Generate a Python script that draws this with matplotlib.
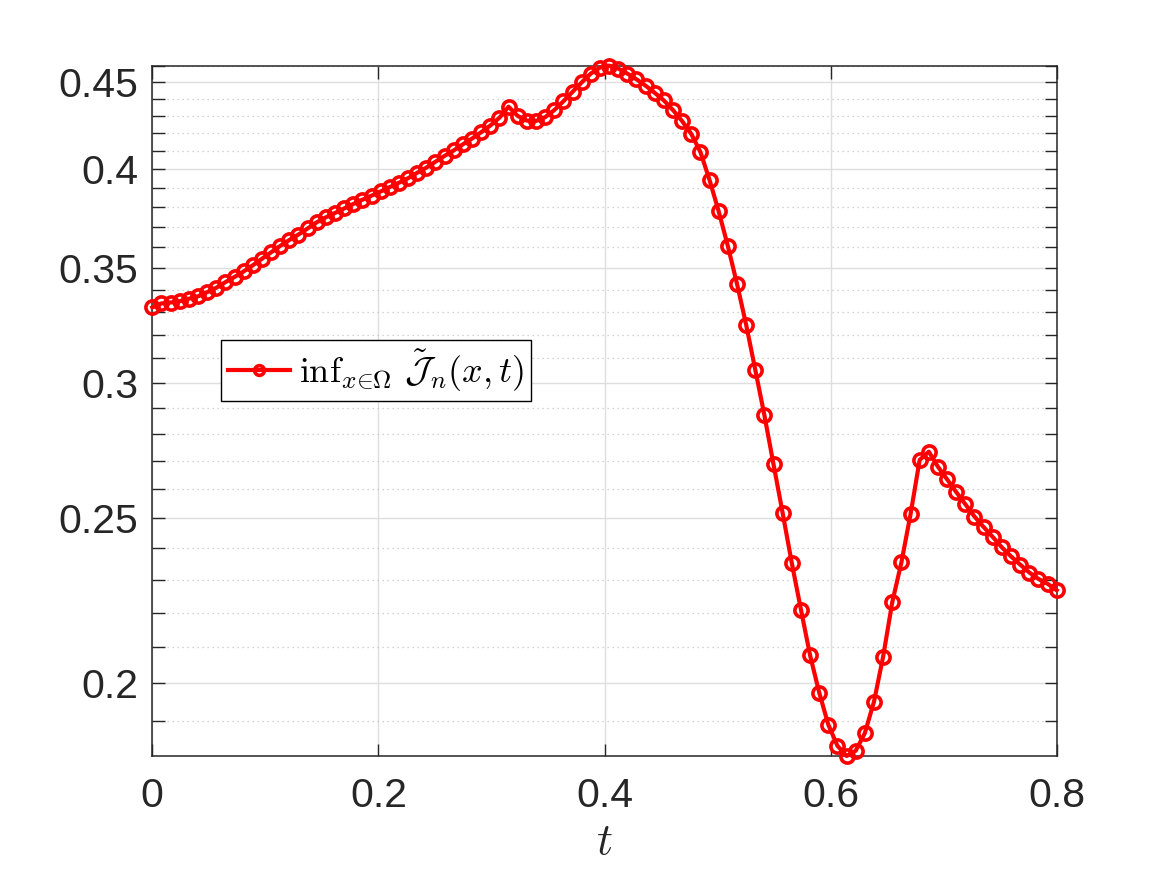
import numpy as np
import matplotlib
matplotlib.use("Agg")
import matplotlib.pyplot as plt
from matplotlib.ticker import FixedLocator, MultipleLocator, NullFormatter, FixedFormatter

# ---------------- data ----------------
t_start = 0.0
t_end = 0.8
n_points = 100
t = np.linspace(t_start, t_end, n_points)

inf_J = [
    0.3320, 0.3338, 0.3342, 0.3348, 0.3359, 0.3370, 0.3389, 0.3409, 0.3435, 0.3459,
    0.3485, 0.3514, 0.3545, 0.3576, 0.3607, 0.3636, 0.3663, 0.3693, 0.3724, 0.3749,
    0.3771, 0.3794, 0.3817, 0.3839, 0.3860, 0.3882, 0.3905, 0.3928, 0.3952, 0.3981,
    0.4009, 0.4041, 0.4073, 0.4103, 0.4137, 0.4169, 0.4205, 0.4243, 0.4288, 0.4352,
    0.4298, 0.4271, 0.4269, 0.4291, 0.4332, 0.4384, 0.4440, 0.4497, 0.4551, 0.4588,
    0.4600, 0.4582, 0.4551, 0.4516, 0.4477, 0.4434, 0.4389, 0.4332, 0.4268, 0.4195,
    0.4094, 0.3942, 0.3779, 0.3607, 0.3428, 0.3244, 0.3053, 0.2871, 0.2687, 0.2516,
    0.2352, 0.2209, 0.2077, 0.1975, 0.1891, 0.1838, 0.1813, 0.1826, 0.1870, 0.1951,
    0.2073, 0.2231, 0.2354, 0.2512, 0.2703, 0.2733, 0.2678, 0.2633, 0.2588, 0.2546,
    0.2504, 0.2469, 0.2436, 0.2402, 0.2373, 0.2347, 0.2322, 0.2302, 0.2287, 0.2267,
]

x_ticks = [0, 0.2, 0.4, 0.6, 0.8]
x_tick_labels = ["0", "0.2", "0.4", "0.6", "0.8"]
y_ticks = [0.2, 0.25, 0.3, 0.35, 0.4, 0.45]
y_tick_labels = ["0.2", "0.25", "0.3", "0.35", "0.4", "0.45"]
legend_label = r"$\inf_{x\in\Omega}\,\tilde{\mathcal{J}}_n(x,t)$"
x_label = r"$t$"

# ---------------- style ----------------
plt.rcParams["font.family"] = ["Liberation Sans", "DejaVu Sans"]
plt.rcParams["mathtext.fontset"] = "cm"

axis_color = "#262626"

fig = plt.figure(figsize=(11.67, 8.75), dpi=100)
ax = fig.add_axes([0.1305, 0.136, 0.775, 0.789])

ax.plot(t, inf_J, color="red", lw=3.0, marker="o", ms=9.5, mfc="none",
        mec="red", mew=2.6, label=legend_label, clip_on=False, zorder=3)

ax.set_yscale("log")
ax.set_xlim(t_start, t_end)
ax.set_ylim(min(inf_J), max(inf_J))

ax.xaxis.set_major_locator(FixedLocator(x_ticks))
ax.xaxis.set_major_formatter(FixedFormatter(x_tick_labels))
ax.xaxis.set_minor_locator(FixedLocator([]))
ax.yaxis.set_major_locator(FixedLocator(y_ticks))
ax.yaxis.set_major_formatter(FixedFormatter(y_tick_labels))
ax.yaxis.set_minor_locator(MultipleLocator(0.01))
ax.yaxis.set_minor_formatter(NullFormatter())

ax.tick_params(axis="both", which="both", direction="in", top=True, right=True,
               colors=axis_color, width=1.0)
ax.tick_params(axis="both", which="major", length=9, labelsize=29.5, labelcolor=axis_color)
ax.tick_params(axis="x", which="major", pad=15)
ax.tick_params(axis="y", which="major", pad=10)
ax.tick_params(axis="y", which="minor", length=9)

ax.grid(True, which="major", color="#dedede", lw=1.0, ls="-")
ax.yaxis.grid(True, which="minor", color="#c4c4c4", lw=0.9, ls=(0, (1, 3)))
ax.set_axisbelow(True)

for s in ax.spines.values():
    s.set_color(axis_color)
    s.set_linewidth(1.1)

ax.set_xlabel(x_label, fontsize=32, color=axis_color, labelpad=5)

leg = ax.legend(loc="upper left", bbox_to_anchor=(0.076, 0.602), fontsize=26,
                frameon=True, fancybox=False, edgecolor="black", framealpha=1,
                borderpad=0.2, handlelength=1.7, handletextpad=0.25, borderaxespad=0)
leg.get_frame().set_linewidth(1.0)
for h in leg.legend_handles:
    h.set_markersize(7)

fig.savefig("out.png", dpi=100)
